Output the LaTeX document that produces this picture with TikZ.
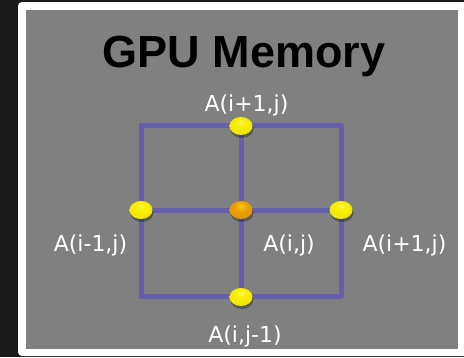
\documentclass[tikz,border=0pt]{standalone}
\usepackage{fontspec}
\setmainfont{DejaVu Sans}
\newfontfamily\titlefont{Liberation Sans}
\usetikzlibrary{shapes.geometric}
\definecolor{bgdark}{RGB}{26,26,26}
\definecolor{panel}{RGB}{128,128,128}
\definecolor{gridblue}{RGB}{100,94,172}
\definecolor{dotyellow}{RGB}{250,240,0}
\definecolor{dotorange}{RGB}{235,160,0}
\pgfdeclareradialshading{yellowdot}{\pgfpoint{0bp}{12bp}}{color(0bp)=(dotyellow!60!white); color(10bp)=(dotyellow); color(48bp)=(dotyellow!92!black); color(62bp)=(dotyellow!60!black)}
\pgfdeclareradialshading{orangedot}{\pgfpoint{0bp}{12bp}}{color(0bp)=(dotorange!50!yellow); color(14bp)=(dotorange); color(48bp)=(dotorange!90!black); color(62bp)=(dotorange!60!black)}
\tikzset{
  gridline/.style={draw=gridblue, line width=5pt, line cap=round, line join=round},
  dotball/.style={ellipse, minimum width=23pt, minimum height=18pt, inner sep=0pt, shading=#1},
  dotshadow/.style={ellipse, minimum width=23pt, minimum height=18pt, inner sep=0pt, fill=black, opacity=0.3},
  lbl/.style={text=white, font=\fontsize{22}{24}\selectfont, anchor=base, inner sep=0pt}
}
\begin{document}
\begin{tikzpicture}[x=1pt, y=-1pt]
\useasboundingbox (0,0) rectangle (464,357);
\fill[bgdark] (0,0) rectangle (464,357);
\fill[white, rounded corners=4pt] (18,2) rectangle (470,356);
\fill[panel] (26,10) rectangle (458,349);
\node[font=\titlefont\bfseries\fontsize{45}{50}\selectfont, anchor=base, inner sep=0pt] (title) at (244,67) {GPU Memory};
% grid corners
\coordinate (tl) at (141,125);
\coordinate (tr) at (341,125);
\coordinate (bl) at (141,296);
\coordinate (br) at (341,296);
\coordinate (tm) at (241,125);
\coordinate (bm) at (241,296);
\coordinate (ml) at (141,210);
\coordinate (mr) at (341,210);
\draw[gridline] (tl) -- (tr) -- (br) -- (bl) -- cycle;
\draw[gridline] (tm) -- (bm);
\draw[gridline] (ml) -- (mr);
% shadows
\foreach \p in {(242,129),(142,213),(242,213),(342,213),(242,300)}
  \node[dotshadow] at \p {};
% dots
\node[dotball=yellowdot] (up) at (241,126) {};
\node[dotball=yellowdot] (left) at (141,210) {};
\node[dotball=orangedot] (center) at (241,210) {};
\node[dotball=yellowdot] (right) at (341,210) {};
\node[dotball=yellowdot] (down) at (241,297) {};
% labels
\node[lbl] (lup) at (246.5,111) {A(i+1,j)};
\node[lbl] (lleft) at (90.5,251) {A(i-1,j)};
\node[lbl] (lcenter) at (289,251) {A(i,j)};
\node[lbl] (lright) at (404.5,251) {A(i+1,j)};
\node[lbl] (ldown) at (245,342) {A(i,j-1)};
\end{tikzpicture}
\end{document}
